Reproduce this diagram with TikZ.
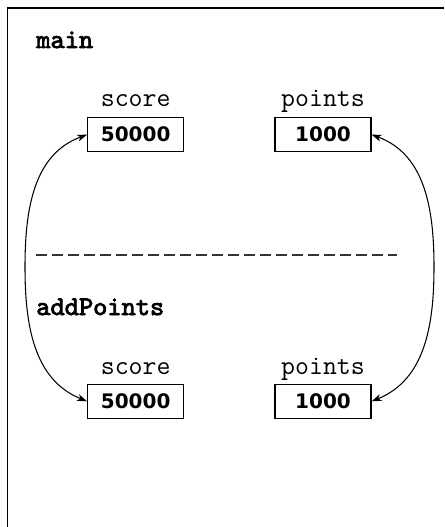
\documentclass[tikz,border=0pt]{standalone}
\usepackage{fontspec}
\newfontfamily\numfont{DejaVu Sans}
\newfontfamily\namefont{lmmono10-regular.otf}[FakeBold=3]
\usetikzlibrary{arrows.meta}
\tikzset{
	varlabel/.style = {font=\ttfamily\fontsize{15.4}{18}\selectfont, anchor=base, inner sep=0},
	framename/.style = {font=\namefont\fontsize{15.4}{18}\selectfont, anchor=base west, inner sep=0},
	valbox/.style = {draw, line width=0.75pt, minimum width=1.92cm, minimum height=0.68cm, inner sep=0, font=\numfont\bfseries\fontsize{11.4}{14}\selectfont},
	link/.style = {line width=0.6pt, {Stealth[length=0.2cm,width=0.14cm,inset=0.06cm]}-{Stealth[length=0.2cm,width=0.14cm,inset=0.06cm]}}
}
\begin{document}
\begin{tikzpicture}[x=0.02cm, y=-0.02cm]
	\useasboundingbox (0,0) rectangle (444,527);
	\draw [line width=1pt] (444,8) -- (7.5,8) -- (7.5,527);
	\node [framename] (main) at (36,48) {main};
	\node [framename] (add) at (36,315) {addPoints};
	\draw [line width=0.8pt, black!80, dash pattern=on 0.22cm off 0.1cm] (36,255) -- (397,255);
	% main
	\node [valbox] (score1) at (135.7,134.7) {50000};
	\node [valbox] (points1) at (323,134.7) {1000};
	\node [varlabel] (scorelab1) at (135.7,107) {score};
	\node [varlabel] (pointslab1) at (323,107) {points};
	% addPoints
	\node [valbox] (score2) at (135.7,401.3) {50000};
	\node [valbox] (points2) at (323,401.3) {1000};
	\node [varlabel] (scorelab2) at (135.7,374.3) {score};
	\node [varlabel] (pointslab2) at (323,374.3) {points};
	% arrows
	\coordinate (lbend) at (25,267);
	\coordinate (rbend) at (434,267);
	\draw [link] (score1.west) to[out=200, in=90] (lbend) to[out=270, in=158] (score2.west);
	\draw [link] (points1.east) to[out=-20, in=90] (rbend) to[out=270, in=22] (points2.east);
\end{tikzpicture}
\end{document}
